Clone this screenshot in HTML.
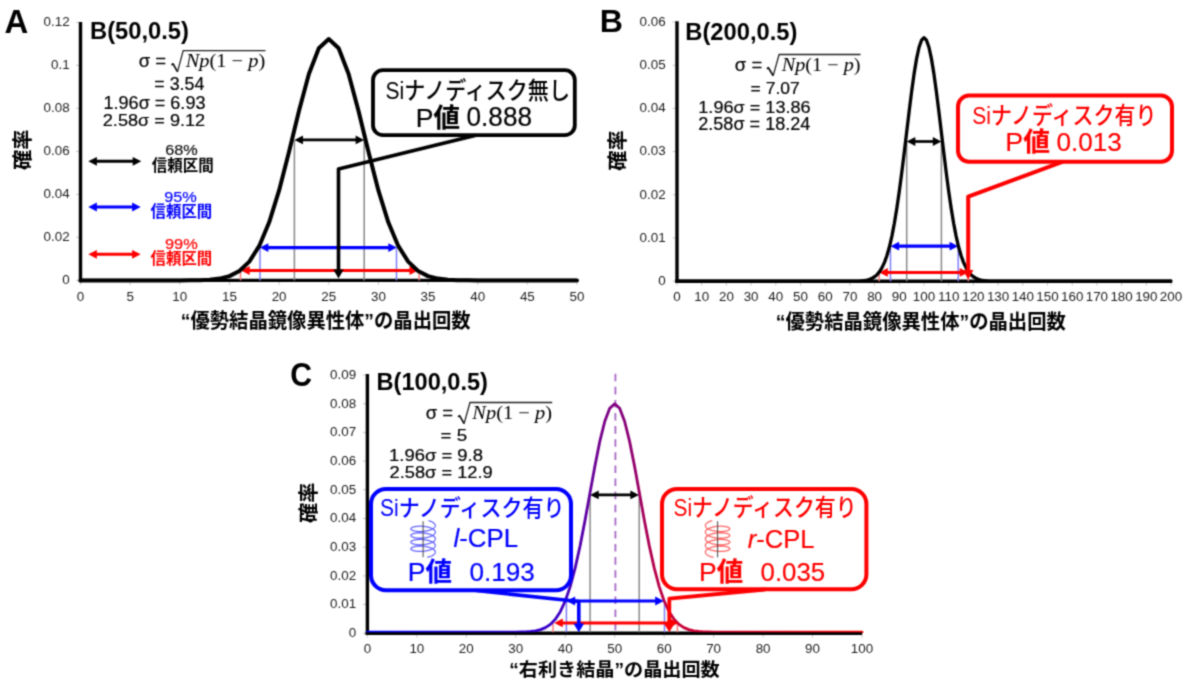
<!DOCTYPE html>
<html><head><meta charset="utf-8"><title>Binomial distribution figure</title>
<style>html,body{margin:0;padding:0;background:#fff;}svg{display:block;will-change:transform;font-family:'Liberation Sans','Noto Sans CJK JP',sans-serif;}</style>
</head><body>
<svg width="1198" height="688" viewBox="0 0 1198 688">
<defs><filter id="soft" x="0" y="0" width="1198" height="688" filterUnits="userSpaceOnUse" color-interpolation-filters="sRGB"><feConvolveMatrix order="3" kernelMatrix="0.0400 0.1200 0.0400 0.1200 0.3600 0.1200 0.0400 0.1200 0.0400" edgeMode="duplicate"/></filter></defs>
<g filter="url(#soft)">
<rect width="1198" height="688" fill="#fff"/>
<line x1="76.00" y1="280.40" x2="80.50" y2="280.40" stroke="#c8c8c8" stroke-width="1" />
<text x="69.60" y="284.20" font-size="13.4" fill="#1c1c1c" text-anchor="end">0</text>
<line x1="76.00" y1="237.40" x2="80.50" y2="237.40" stroke="#c8c8c8" stroke-width="1" />
<text x="69.60" y="241.20" font-size="13.4" fill="#1c1c1c" text-anchor="end">0.02</text>
<line x1="76.00" y1="194.40" x2="80.50" y2="194.40" stroke="#c8c8c8" stroke-width="1" />
<text x="69.60" y="198.20" font-size="13.4" fill="#1c1c1c" text-anchor="end">0.04</text>
<line x1="76.00" y1="151.40" x2="80.50" y2="151.40" stroke="#c8c8c8" stroke-width="1" />
<text x="69.60" y="155.20" font-size="13.4" fill="#1c1c1c" text-anchor="end">0.06</text>
<line x1="76.00" y1="108.40" x2="80.50" y2="108.40" stroke="#c8c8c8" stroke-width="1" />
<text x="69.60" y="112.20" font-size="13.4" fill="#1c1c1c" text-anchor="end">0.08</text>
<line x1="76.00" y1="65.40" x2="80.50" y2="65.40" stroke="#c8c8c8" stroke-width="1" />
<text x="69.60" y="69.20" font-size="13.4" fill="#1c1c1c" text-anchor="end">0.1</text>
<line x1="76.00" y1="22.40" x2="80.50" y2="22.40" stroke="#c8c8c8" stroke-width="1" />
<text x="69.60" y="26.20" font-size="13.4" fill="#1c1c1c" text-anchor="end">0.12</text>
<line x1="80.50" y1="280.40" x2="80.50" y2="284.90" stroke="#c8c8c8" stroke-width="1" />
<text x="80.50" y="300.60" font-size="13.4" fill="#1c1c1c" text-anchor="middle">0</text>
<line x1="130.15" y1="280.40" x2="130.15" y2="284.90" stroke="#c8c8c8" stroke-width="1" />
<text x="130.15" y="300.60" font-size="13.4" fill="#1c1c1c" text-anchor="middle">5</text>
<line x1="179.80" y1="280.40" x2="179.80" y2="284.90" stroke="#c8c8c8" stroke-width="1" />
<text x="179.80" y="300.60" font-size="13.4" fill="#1c1c1c" text-anchor="middle">10</text>
<line x1="229.45" y1="280.40" x2="229.45" y2="284.90" stroke="#c8c8c8" stroke-width="1" />
<text x="229.45" y="300.60" font-size="13.4" fill="#1c1c1c" text-anchor="middle">15</text>
<line x1="279.10" y1="280.40" x2="279.10" y2="284.90" stroke="#c8c8c8" stroke-width="1" />
<text x="279.10" y="300.60" font-size="13.4" fill="#1c1c1c" text-anchor="middle">20</text>
<line x1="328.75" y1="280.40" x2="328.75" y2="284.90" stroke="#c8c8c8" stroke-width="1" />
<text x="328.75" y="300.60" font-size="13.4" fill="#1c1c1c" text-anchor="middle">25</text>
<line x1="378.40" y1="280.40" x2="378.40" y2="284.90" stroke="#c8c8c8" stroke-width="1" />
<text x="378.40" y="300.60" font-size="13.4" fill="#1c1c1c" text-anchor="middle">30</text>
<line x1="428.05" y1="280.40" x2="428.05" y2="284.90" stroke="#c8c8c8" stroke-width="1" />
<text x="428.05" y="300.60" font-size="13.4" fill="#1c1c1c" text-anchor="middle">35</text>
<line x1="477.70" y1="280.40" x2="477.70" y2="284.90" stroke="#c8c8c8" stroke-width="1" />
<text x="477.70" y="300.60" font-size="13.4" fill="#1c1c1c" text-anchor="middle">40</text>
<line x1="527.35" y1="280.40" x2="527.35" y2="284.90" stroke="#c8c8c8" stroke-width="1" />
<text x="527.35" y="300.60" font-size="13.4" fill="#1c1c1c" text-anchor="middle">45</text>
<line x1="577.00" y1="280.40" x2="577.00" y2="284.90" stroke="#c8c8c8" stroke-width="1" />
<text x="577.00" y="300.60" font-size="13.4" fill="#1c1c1c" text-anchor="middle">50</text>
<line x1="80.50" y1="21.90" x2="80.50" y2="282.15" stroke="#000" stroke-width="3.4" />
<line x1="78.80" y1="280.40" x2="577.00" y2="280.40" stroke="#000" stroke-width="3.4" />
<line x1="294.40" y1="139.90" x2="294.40" y2="280.40" stroke="#888888" stroke-width="1.5" />
<line x1="364.20" y1="139.90" x2="364.20" y2="280.40" stroke="#888888" stroke-width="1.5" />
<line x1="302.00" y1="139.90" x2="356.60" y2="139.90" stroke="#000" stroke-width="2.7" />
<polygon points="294.40,139.90 303.00,135.50 303.00,144.30" fill="#000" />
<polygon points="364.20,139.90 355.60,135.50 355.60,144.30" fill="#000" />
<line x1="260.00" y1="247.60" x2="260.00" y2="280.40" stroke="#7c7cff" stroke-width="1.5" />
<line x1="396.50" y1="247.60" x2="396.50" y2="280.40" stroke="#7c7cff" stroke-width="1.5" />
<line x1="267.40" y1="247.60" x2="389.30" y2="247.60" stroke="#0000ff" stroke-width="3.2" />
<polygon points="259.80,247.60 268.40,243.20 268.40,252.00" fill="#0000ff" />
<polygon points="396.90,247.60 388.30,243.20 388.30,252.00" fill="#0000ff" />
<line x1="240.50" y1="270.50" x2="240.50" y2="280.40" stroke="#ff7c7c" stroke-width="1.5" />
<line x1="419.10" y1="270.50" x2="419.10" y2="280.40" stroke="#ff7c7c" stroke-width="1.5" />
<line x1="248.70" y1="270.50" x2="410.50" y2="270.50" stroke="#ff0000" stroke-width="3.0" />
<polygon points="241.10,270.50 249.70,266.10 249.70,274.90" fill="#ff0000" />
<polygon points="418.10,270.50 409.50,266.10 409.50,274.90" fill="#ff0000" />
<polyline points="80.50,280.40 90.43,280.40 100.36,280.40 110.29,280.40 120.22,280.40 130.15,280.40 140.08,280.40 150.01,280.40 159.94,280.40 169.87,280.40 179.80,280.38 189.73,280.33 199.66,280.17 209.59,279.72 219.52,278.61 229.45,276.10 239.38,271.00 249.31,261.60 259.24,245.93 269.17,222.34 279.10,190.40 289.03,151.83 298.96,110.92 308.89,74.08 318.82,48.29 328.75,39.01 338.68,48.29 348.61,74.08 358.54,110.92 368.47,151.83 378.40,190.40 388.33,222.34 398.26,245.93 408.19,261.60 418.12,271.00 428.05,276.10 437.98,278.61 447.91,279.72 457.84,280.17 467.77,280.33 477.70,280.38 487.63,280.40 497.56,280.40 507.49,280.40 517.42,280.40 527.35,280.40 537.28,280.40 547.21,280.40 557.14,280.40 567.07,280.40 577.00,280.40" fill="none" stroke="#000" stroke-width="4" stroke-linejoin="round" stroke-linecap="round"/>
<rect x="373" y="70.2" width="201.8" height="65" rx="10" fill="#fff" stroke="#000" stroke-width="3.8"/>
<polyline points="476.00,135.20 338.50,169.00 338.50,272.00" fill="none" stroke="#000" stroke-width="3.6" stroke-linejoin="round" />
<polygon points="338.50,278.60 333.30,269.50 343.70,269.50" fill="#000" />
<text x="385.50" y="98.95" font-size="23.37" font-weight="500" textLength="184.44" lengthAdjust="spacingAndGlyphs" xml:space="preserve">Siナノディスク無し</text>
<text x="415.85" y="126.75" font-size="25.75" textLength="44.19" lengthAdjust="spacingAndGlyphs" stroke="#000" stroke-width="0.18" xml:space="preserve">P<tspan font-weight="bold">値</tspan></text>
<text x="466.50" y="126.35" font-size="26.76" textLength="65.50" lengthAdjust="spacingAndGlyphs" stroke="#000" stroke-width="0.18" xml:space="preserve">0.888</text>
<line x1="95.90" y1="161.30" x2="133.70" y2="161.30" stroke="#000" stroke-width="3" />
<polygon points="88.30,161.30 96.90,156.90 96.90,165.70" fill="#000" />
<polygon points="141.30,161.30 132.70,156.90 132.70,165.70" fill="#000" />
<line x1="95.90" y1="207.00" x2="133.10" y2="207.00" stroke="#0000ff" stroke-width="3" />
<polygon points="88.30,207.00 96.90,202.60 96.90,211.40" fill="#0000ff" />
<polygon points="140.70,207.00 132.10,202.60 132.10,211.40" fill="#0000ff" />
<line x1="95.90" y1="254.30" x2="133.10" y2="254.30" stroke="#ff0000" stroke-width="3" />
<polygon points="88.30,254.30 96.90,249.90 96.90,258.70" fill="#ff0000" />
<polygon points="140.70,254.30 132.10,249.90 132.10,258.70" fill="#ff0000" />
<text x="165.25" y="155.25" font-size="15.14" fill="#111" textLength="32.53" lengthAdjust="spacingAndGlyphs" stroke="#111" stroke-width="0.18" xml:space="preserve">68%</text>
<text x="151.75" y="171.43" font-size="15.75" font-weight="bold" textLength="62.03" lengthAdjust="spacingAndGlyphs" xml:space="preserve">信頼区間</text>
<text x="164.15" y="201.78" font-size="15.43" fill="#0000ff" textLength="32.63" lengthAdjust="spacingAndGlyphs" stroke="#0000ff" stroke-width="0.18" xml:space="preserve">95%</text>
<text x="150.55" y="217.43" font-size="15.75" fill="#0000ff" font-weight="bold" textLength="61.67" lengthAdjust="spacingAndGlyphs" xml:space="preserve">信頼区間</text>
<text x="164.95" y="248.52" font-size="14.86" fill="#ff0000" textLength="32.74" lengthAdjust="spacingAndGlyphs" stroke="#ff0000" stroke-width="0.18" xml:space="preserve">99%</text>
<text x="150.55" y="264.33" font-size="15.75" fill="#ff0000" font-weight="bold" textLength="61.67" lengthAdjust="spacingAndGlyphs" xml:space="preserve">信頼区間</text>
<line x1="672.50" y1="281.20" x2="677.00" y2="281.20" stroke="#c8c8c8" stroke-width="1" />
<text x="665.60" y="285.00" font-size="13.4" fill="#1c1c1c" text-anchor="end">0</text>
<line x1="672.50" y1="238.00" x2="677.00" y2="238.00" stroke="#c8c8c8" stroke-width="1" />
<text x="665.60" y="241.80" font-size="13.4" fill="#1c1c1c" text-anchor="end">0.01</text>
<line x1="672.50" y1="194.80" x2="677.00" y2="194.80" stroke="#c8c8c8" stroke-width="1" />
<text x="665.60" y="198.60" font-size="13.4" fill="#1c1c1c" text-anchor="end">0.02</text>
<line x1="672.50" y1="151.60" x2="677.00" y2="151.60" stroke="#c8c8c8" stroke-width="1" />
<text x="665.60" y="155.40" font-size="13.4" fill="#1c1c1c" text-anchor="end">0.03</text>
<line x1="672.50" y1="108.40" x2="677.00" y2="108.40" stroke="#c8c8c8" stroke-width="1" />
<text x="665.60" y="112.20" font-size="13.4" fill="#1c1c1c" text-anchor="end">0.04</text>
<line x1="672.50" y1="65.20" x2="677.00" y2="65.20" stroke="#c8c8c8" stroke-width="1" />
<text x="665.60" y="69.00" font-size="13.4" fill="#1c1c1c" text-anchor="end">0.05</text>
<line x1="672.50" y1="22.00" x2="677.00" y2="22.00" stroke="#c8c8c8" stroke-width="1" />
<text x="665.60" y="25.80" font-size="13.4" fill="#1c1c1c" text-anchor="end">0.06</text>
<line x1="677.00" y1="281.20" x2="677.00" y2="285.70" stroke="#c8c8c8" stroke-width="1" />
<text x="677.00" y="301.40" font-size="13.4" fill="#1c1c1c" text-anchor="middle">0</text>
<line x1="701.70" y1="281.20" x2="701.70" y2="285.70" stroke="#c8c8c8" stroke-width="1" />
<text x="701.70" y="301.40" font-size="13.4" fill="#1c1c1c" text-anchor="middle">10</text>
<line x1="726.40" y1="281.20" x2="726.40" y2="285.70" stroke="#c8c8c8" stroke-width="1" />
<text x="726.40" y="301.40" font-size="13.4" fill="#1c1c1c" text-anchor="middle">20</text>
<line x1="751.10" y1="281.20" x2="751.10" y2="285.70" stroke="#c8c8c8" stroke-width="1" />
<text x="751.10" y="301.40" font-size="13.4" fill="#1c1c1c" text-anchor="middle">30</text>
<line x1="775.80" y1="281.20" x2="775.80" y2="285.70" stroke="#c8c8c8" stroke-width="1" />
<text x="775.80" y="301.40" font-size="13.4" fill="#1c1c1c" text-anchor="middle">40</text>
<line x1="800.50" y1="281.20" x2="800.50" y2="285.70" stroke="#c8c8c8" stroke-width="1" />
<text x="800.50" y="301.40" font-size="13.4" fill="#1c1c1c" text-anchor="middle">50</text>
<line x1="825.20" y1="281.20" x2="825.20" y2="285.70" stroke="#c8c8c8" stroke-width="1" />
<text x="825.20" y="301.40" font-size="13.4" fill="#1c1c1c" text-anchor="middle">60</text>
<line x1="849.90" y1="281.20" x2="849.90" y2="285.70" stroke="#c8c8c8" stroke-width="1" />
<text x="849.90" y="301.40" font-size="13.4" fill="#1c1c1c" text-anchor="middle">70</text>
<line x1="874.60" y1="281.20" x2="874.60" y2="285.70" stroke="#c8c8c8" stroke-width="1" />
<text x="874.60" y="301.40" font-size="13.4" fill="#1c1c1c" text-anchor="middle">80</text>
<line x1="899.30" y1="281.20" x2="899.30" y2="285.70" stroke="#c8c8c8" stroke-width="1" />
<text x="899.30" y="301.40" font-size="13.4" fill="#1c1c1c" text-anchor="middle">90</text>
<line x1="924.00" y1="281.20" x2="924.00" y2="285.70" stroke="#c8c8c8" stroke-width="1" />
<text x="924.00" y="301.40" font-size="13.4" fill="#1c1c1c" text-anchor="middle">100</text>
<line x1="948.70" y1="281.20" x2="948.70" y2="285.70" stroke="#c8c8c8" stroke-width="1" />
<text x="948.70" y="301.40" font-size="13.4" fill="#1c1c1c" text-anchor="middle">110</text>
<line x1="973.40" y1="281.20" x2="973.40" y2="285.70" stroke="#c8c8c8" stroke-width="1" />
<text x="973.40" y="301.40" font-size="13.4" fill="#1c1c1c" text-anchor="middle">120</text>
<line x1="998.10" y1="281.20" x2="998.10" y2="285.70" stroke="#c8c8c8" stroke-width="1" />
<text x="998.10" y="301.40" font-size="13.4" fill="#1c1c1c" text-anchor="middle">130</text>
<line x1="1022.80" y1="281.20" x2="1022.80" y2="285.70" stroke="#c8c8c8" stroke-width="1" />
<text x="1022.80" y="301.40" font-size="13.4" fill="#1c1c1c" text-anchor="middle">140</text>
<line x1="1047.50" y1="281.20" x2="1047.50" y2="285.70" stroke="#c8c8c8" stroke-width="1" />
<text x="1047.50" y="301.40" font-size="13.4" fill="#1c1c1c" text-anchor="middle">150</text>
<line x1="1072.20" y1="281.20" x2="1072.20" y2="285.70" stroke="#c8c8c8" stroke-width="1" />
<text x="1072.20" y="301.40" font-size="13.4" fill="#1c1c1c" text-anchor="middle">160</text>
<line x1="1096.90" y1="281.20" x2="1096.90" y2="285.70" stroke="#c8c8c8" stroke-width="1" />
<text x="1096.90" y="301.40" font-size="13.4" fill="#1c1c1c" text-anchor="middle">170</text>
<line x1="1121.60" y1="281.20" x2="1121.60" y2="285.70" stroke="#c8c8c8" stroke-width="1" />
<text x="1121.60" y="301.40" font-size="13.4" fill="#1c1c1c" text-anchor="middle">180</text>
<line x1="1146.30" y1="281.20" x2="1146.30" y2="285.70" stroke="#c8c8c8" stroke-width="1" />
<text x="1146.30" y="301.40" font-size="13.4" fill="#1c1c1c" text-anchor="middle">190</text>
<line x1="1171.00" y1="281.20" x2="1171.00" y2="285.70" stroke="#c8c8c8" stroke-width="1" />
<text x="1171.00" y="301.40" font-size="13.4" fill="#1c1c1c" text-anchor="middle">200</text>
<line x1="677.00" y1="21.30" x2="677.00" y2="282.95" stroke="#000" stroke-width="3.4" />
<line x1="675.30" y1="281.20" x2="1172.00" y2="281.20" stroke="#000" stroke-width="3.4" />
<line x1="906.70" y1="141.50" x2="906.70" y2="281.20" stroke="#888888" stroke-width="1.5" />
<line x1="941.40" y1="141.50" x2="941.40" y2="281.20" stroke="#888888" stroke-width="1.5" />
<line x1="914.30" y1="141.50" x2="933.80" y2="141.50" stroke="#000" stroke-width="2.7" />
<polygon points="906.70,141.50 915.30,137.10 915.30,145.90" fill="#000" />
<polygon points="941.40,141.50 932.80,137.10 932.80,145.90" fill="#000" />
<line x1="890.50" y1="246.20" x2="890.50" y2="281.20" stroke="#7c7cff" stroke-width="1.5" />
<line x1="958.20" y1="246.20" x2="958.20" y2="281.20" stroke="#7c7cff" stroke-width="1.5" />
<line x1="898.10" y1="246.20" x2="950.60" y2="246.20" stroke="#0000ff" stroke-width="3.2" />
<polygon points="890.50,246.20 899.10,241.80 899.10,250.60" fill="#0000ff" />
<polygon points="958.20,246.20 949.60,241.80 949.60,250.60" fill="#0000ff" />
<line x1="879.20" y1="272.40" x2="879.20" y2="281.20" stroke="#ff7c7c" stroke-width="1.5" />
<line x1="968.30" y1="272.40" x2="968.30" y2="281.20" stroke="#ff7c7c" stroke-width="1.5" />
<line x1="886.80" y1="272.40" x2="960.70" y2="272.40" stroke="#ff0000" stroke-width="3.0" />
<polygon points="879.20,272.40 887.80,268.00 887.80,276.80" fill="#ff0000" />
<polygon points="968.30,272.40 959.70,268.00 959.70,276.80" fill="#ff0000" />
<polyline points="677.00,281.20 679.47,281.20 681.94,281.20 684.41,281.20 686.88,281.20 689.35,281.20 691.82,281.20 694.29,281.20 696.76,281.20 699.23,281.20 701.70,281.20 704.17,281.20 706.64,281.20 709.11,281.20 711.58,281.20 714.05,281.20 716.52,281.20 718.99,281.20 721.46,281.20 723.93,281.20 726.40,281.20 728.87,281.20 731.34,281.20 733.81,281.20 736.28,281.20 738.75,281.20 741.22,281.20 743.69,281.20 746.16,281.20 748.63,281.20 751.10,281.20 753.57,281.20 756.04,281.20 758.51,281.20 760.98,281.20 763.45,281.20 765.92,281.20 768.39,281.20 770.86,281.20 773.33,281.20 775.80,281.20 778.27,281.20 780.74,281.20 783.21,281.20 785.68,281.20 788.15,281.20 790.62,281.20 793.09,281.20 795.56,281.20 798.03,281.20 800.50,281.20 802.97,281.20 805.44,281.20 807.91,281.20 810.38,281.20 812.85,281.20 815.32,281.20 817.79,281.20 820.26,281.20 822.73,281.20 825.20,281.20 827.67,281.20 830.14,281.20 832.61,281.20 835.08,281.20 837.55,281.20 840.02,281.20 842.49,281.20 844.96,281.19 847.43,281.19 849.90,281.17 852.37,281.15 854.84,281.11 857.31,281.04 859.78,280.93 862.25,280.75 864.72,280.45 867.19,280.00 869.66,279.30 872.13,278.27 874.60,276.77 877.07,274.64 879.54,271.68 882.01,267.66 884.48,262.35 886.95,255.47 889.42,246.79 891.89,236.12 894.36,223.31 896.83,208.35 899.30,191.35 901.77,172.59 904.24,152.52 906.71,131.77 909.18,111.10 911.65,91.40 914.12,73.61 916.59,58.63 919.06,47.27 921.53,40.18 924.00,37.77 926.47,40.18 928.94,47.27 931.41,58.63 933.88,73.61 936.35,91.40 938.82,111.10 941.29,131.77 943.76,152.52 946.23,172.59 948.70,191.35 951.17,208.35 953.64,223.31 956.11,236.12 958.58,246.79 961.05,255.47 963.52,262.35 965.99,267.66 968.46,271.68 970.93,274.64 973.40,276.77 975.87,278.27 978.34,279.30 980.81,280.00 983.28,280.45 985.75,280.75 988.22,280.93 990.69,281.04 993.16,281.11 995.63,281.15 998.10,281.17 1000.57,281.19 1003.04,281.19 1005.51,281.20 1007.98,281.20 1010.45,281.20 1012.92,281.20 1015.39,281.20 1017.86,281.20 1020.33,281.20 1022.80,281.20 1025.27,281.20 1027.74,281.20 1030.21,281.20 1032.68,281.20 1035.15,281.20 1037.62,281.20 1040.09,281.20 1042.56,281.20 1045.03,281.20 1047.50,281.20 1049.97,281.20 1052.44,281.20 1054.91,281.20 1057.38,281.20 1059.85,281.20 1062.32,281.20 1064.79,281.20 1067.26,281.20 1069.73,281.20 1072.20,281.20 1074.67,281.20 1077.14,281.20 1079.61,281.20 1082.08,281.20 1084.55,281.20 1087.02,281.20 1089.49,281.20 1091.96,281.20 1094.43,281.20 1096.90,281.20 1099.37,281.20 1101.84,281.20 1104.31,281.20 1106.78,281.20 1109.25,281.20 1111.72,281.20 1114.19,281.20 1116.66,281.20 1119.13,281.20 1121.60,281.20 1124.07,281.20 1126.54,281.20 1129.01,281.20 1131.48,281.20 1133.95,281.20 1136.42,281.20 1138.89,281.20 1141.36,281.20 1143.83,281.20 1146.30,281.20 1148.77,281.20 1151.24,281.20 1153.71,281.20 1156.18,281.20 1158.65,281.20 1161.12,281.20 1163.59,281.20 1166.06,281.20 1168.53,281.20 1171.00,281.20" fill="none" stroke="#000" stroke-width="3.3" stroke-linejoin="round" stroke-linecap="round"/>
<rect x="958" y="95.6" width="214" height="66.1" rx="11" fill="#fff" stroke="#ff0000" stroke-width="4"/>
<polyline points="1063.00,161.70 968.20,196.60 968.20,272.00" fill="none" stroke="#ff0000" stroke-width="4" stroke-linejoin="round" />
<polygon points="968.20,279.60 963.00,270.00 973.40,270.00" fill="#ff0000" />
<text x="972.30" y="124.18" font-size="23.58" fill="#ff0000" font-weight="500" textLength="184.17" lengthAdjust="spacingAndGlyphs" xml:space="preserve">Siナノディスク有り</text>
<text x="1005.35" y="151.43" font-size="26.06" fill="#ff0000" textLength="44.73" lengthAdjust="spacingAndGlyphs" stroke="#ff0000" stroke-width="0.18" xml:space="preserve">P<tspan font-weight="bold">値</tspan></text>
<text x="1056.50" y="150.68" font-size="26.62" fill="#ff0000" textLength="65.40" lengthAdjust="spacingAndGlyphs" stroke="#ff0000" stroke-width="0.18" xml:space="preserve">0.013</text>
<line x1="362.90" y1="633.20" x2="367.40" y2="633.20" stroke="#c8c8c8" stroke-width="1" />
<text x="356.10" y="637.00" font-size="13.4" fill="#1c1c1c" text-anchor="end">0</text>
<line x1="362.90" y1="604.52" x2="367.40" y2="604.52" stroke="#c8c8c8" stroke-width="1" />
<text x="356.10" y="608.32" font-size="13.4" fill="#1c1c1c" text-anchor="end">0.01</text>
<line x1="362.90" y1="575.84" x2="367.40" y2="575.84" stroke="#c8c8c8" stroke-width="1" />
<text x="356.10" y="579.64" font-size="13.4" fill="#1c1c1c" text-anchor="end">0.02</text>
<line x1="362.90" y1="547.16" x2="367.40" y2="547.16" stroke="#c8c8c8" stroke-width="1" />
<text x="356.10" y="550.96" font-size="13.4" fill="#1c1c1c" text-anchor="end">0.03</text>
<line x1="362.90" y1="518.48" x2="367.40" y2="518.48" stroke="#c8c8c8" stroke-width="1" />
<text x="356.10" y="522.28" font-size="13.4" fill="#1c1c1c" text-anchor="end">0.04</text>
<line x1="362.90" y1="489.80" x2="367.40" y2="489.80" stroke="#c8c8c8" stroke-width="1" />
<text x="356.10" y="493.60" font-size="13.4" fill="#1c1c1c" text-anchor="end">0.05</text>
<line x1="362.90" y1="461.12" x2="367.40" y2="461.12" stroke="#c8c8c8" stroke-width="1" />
<text x="356.10" y="464.92" font-size="13.4" fill="#1c1c1c" text-anchor="end">0.06</text>
<line x1="362.90" y1="432.44" x2="367.40" y2="432.44" stroke="#c8c8c8" stroke-width="1" />
<text x="356.10" y="436.24" font-size="13.4" fill="#1c1c1c" text-anchor="end">0.07</text>
<line x1="362.90" y1="403.76" x2="367.40" y2="403.76" stroke="#c8c8c8" stroke-width="1" />
<text x="356.10" y="407.56" font-size="13.4" fill="#1c1c1c" text-anchor="end">0.08</text>
<line x1="362.90" y1="375.08" x2="367.40" y2="375.08" stroke="#c8c8c8" stroke-width="1" />
<text x="356.10" y="378.88" font-size="13.4" fill="#1c1c1c" text-anchor="end">0.09</text>
<line x1="367.40" y1="633.20" x2="367.40" y2="637.70" stroke="#c8c8c8" stroke-width="1" />
<text x="367.40" y="653.40" font-size="13.4" fill="#1c1c1c" text-anchor="middle">0</text>
<line x1="416.86" y1="633.20" x2="416.86" y2="637.70" stroke="#c8c8c8" stroke-width="1" />
<text x="416.86" y="653.40" font-size="13.4" fill="#1c1c1c" text-anchor="middle">10</text>
<line x1="466.32" y1="633.20" x2="466.32" y2="637.70" stroke="#c8c8c8" stroke-width="1" />
<text x="466.32" y="653.40" font-size="13.4" fill="#1c1c1c" text-anchor="middle">20</text>
<line x1="515.78" y1="633.20" x2="515.78" y2="637.70" stroke="#c8c8c8" stroke-width="1" />
<text x="515.78" y="653.40" font-size="13.4" fill="#1c1c1c" text-anchor="middle">30</text>
<line x1="565.24" y1="633.20" x2="565.24" y2="637.70" stroke="#c8c8c8" stroke-width="1" />
<text x="565.24" y="653.40" font-size="13.4" fill="#1c1c1c" text-anchor="middle">40</text>
<line x1="614.70" y1="633.20" x2="614.70" y2="637.70" stroke="#c8c8c8" stroke-width="1" />
<text x="614.70" y="653.40" font-size="13.4" fill="#1c1c1c" text-anchor="middle">50</text>
<line x1="664.16" y1="633.20" x2="664.16" y2="637.70" stroke="#c8c8c8" stroke-width="1" />
<text x="664.16" y="653.40" font-size="13.4" fill="#1c1c1c" text-anchor="middle">60</text>
<line x1="713.62" y1="633.20" x2="713.62" y2="637.70" stroke="#c8c8c8" stroke-width="1" />
<text x="713.62" y="653.40" font-size="13.4" fill="#1c1c1c" text-anchor="middle">70</text>
<line x1="763.08" y1="633.20" x2="763.08" y2="637.70" stroke="#c8c8c8" stroke-width="1" />
<text x="763.08" y="653.40" font-size="13.4" fill="#1c1c1c" text-anchor="middle">80</text>
<line x1="812.54" y1="633.20" x2="812.54" y2="637.70" stroke="#c8c8c8" stroke-width="1" />
<text x="812.54" y="653.40" font-size="13.4" fill="#1c1c1c" text-anchor="middle">90</text>
<line x1="862.00" y1="633.20" x2="862.00" y2="637.70" stroke="#c8c8c8" stroke-width="1" />
<text x="862.00" y="653.40" font-size="13.4" fill="#1c1c1c" text-anchor="middle">100</text>
<line x1="367.40" y1="374.00" x2="367.40" y2="634.95" stroke="#000" stroke-width="3.4" />
<line x1="365.70" y1="633.20" x2="862.00" y2="633.20" stroke="#000" stroke-width="3.4" />
<line x1="590.10" y1="494.90" x2="590.10" y2="633.20" stroke="#888888" stroke-width="1.5" />
<line x1="639.20" y1="494.90" x2="639.20" y2="633.20" stroke="#888888" stroke-width="1.5" />
<line x1="566.40" y1="601.00" x2="566.40" y2="633.20" stroke="#7c7cff" stroke-width="1.5" />
<line x1="664.50" y1="601.00" x2="664.50" y2="633.20" stroke="#7c7cff" stroke-width="1.5" />
<line x1="553.00" y1="622.90" x2="553.00" y2="633.20" stroke="#ff7c7c" stroke-width="1.5" />
<line x1="677.40" y1="622.90" x2="677.40" y2="633.20" stroke="#ff7c7c" stroke-width="1.5" />
<line x1="615.40" y1="373.70" x2="615.40" y2="631.00" stroke="#a468c4" stroke-width="1.8" stroke-dasharray="7.6 5.5"/>
<defs><linearGradient id="cg" gradientUnits="userSpaceOnUse" x1="367.40" y1="0" x2="862.00" y2="0"><stop offset="0.0000" stop-color="rgb(0,0,255)"/><stop offset="0.0100" stop-color="rgb(2,0,253)"/><stop offset="0.0200" stop-color="rgb(3,0,252)"/><stop offset="0.0300" stop-color="rgb(5,0,250)"/><stop offset="0.0400" stop-color="rgb(6,0,249)"/><stop offset="0.0500" stop-color="rgb(8,0,247)"/><stop offset="0.0600" stop-color="rgb(9,0,246)"/><stop offset="0.0700" stop-color="rgb(11,0,244)"/><stop offset="0.0800" stop-color="rgb(12,0,243)"/><stop offset="0.0900" stop-color="rgb(14,0,241)"/><stop offset="0.1000" stop-color="rgb(15,0,240)"/><stop offset="0.1100" stop-color="rgb(17,0,238)"/><stop offset="0.1200" stop-color="rgb(18,0,237)"/><stop offset="0.1300" stop-color="rgb(20,0,235)"/><stop offset="0.1400" stop-color="rgb(21,0,234)"/><stop offset="0.1500" stop-color="rgb(23,0,232)"/><stop offset="0.1600" stop-color="rgb(24,0,231)"/><stop offset="0.1700" stop-color="rgb(26,0,229)"/><stop offset="0.1800" stop-color="rgb(27,0,228)"/><stop offset="0.1900" stop-color="rgb(29,0,226)"/><stop offset="0.2000" stop-color="rgb(30,0,225)"/><stop offset="0.2100" stop-color="rgb(32,0,223)"/><stop offset="0.2200" stop-color="rgb(33,0,222)"/><stop offset="0.2300" stop-color="rgb(35,0,220)"/><stop offset="0.2400" stop-color="rgb(36,0,219)"/><stop offset="0.2500" stop-color="rgb(38,0,217)"/><stop offset="0.2600" stop-color="rgb(39,0,216)"/><stop offset="0.2700" stop-color="rgb(41,0,214)"/><stop offset="0.2800" stop-color="rgb(42,0,213)"/><stop offset="0.2900" stop-color="rgb(44,0,211)"/><stop offset="0.3000" stop-color="rgb(45,0,210)"/><stop offset="0.3100" stop-color="rgb(47,0,208)"/><stop offset="0.3200" stop-color="rgb(48,0,207)"/><stop offset="0.3300" stop-color="rgb(50,0,205)"/><stop offset="0.3400" stop-color="rgb(51,0,204)"/><stop offset="0.3500" stop-color="rgb(53,0,202)"/><stop offset="0.3600" stop-color="rgb(55,0,200)"/><stop offset="0.3700" stop-color="rgb(56,0,199)"/><stop offset="0.3800" stop-color="rgb(59,0,196)"/><stop offset="0.3900" stop-color="rgb(61,0,194)"/><stop offset="0.4000" stop-color="rgb(65,0,190)"/><stop offset="0.4100" stop-color="rgb(70,0,185)"/><stop offset="0.4200" stop-color="rgb(75,0,180)"/><stop offset="0.4300" stop-color="rgb(82,0,173)"/><stop offset="0.4400" stop-color="rgb(90,0,165)"/><stop offset="0.4500" stop-color="rgb(99,0,156)"/><stop offset="0.4600" stop-color="rgb(107,0,148)"/><stop offset="0.4700" stop-color="rgb(115,0,140)"/><stop offset="0.4800" stop-color="rgb(121,0,134)"/><stop offset="0.4900" stop-color="rgb(125,0,130)"/><stop offset="0.5000" stop-color="rgb(128,0,127)"/><stop offset="0.5100" stop-color="rgb(130,0,125)"/><stop offset="0.5200" stop-color="rgb(134,0,121)"/><stop offset="0.5300" stop-color="rgb(140,0,115)"/><stop offset="0.5400" stop-color="rgb(148,0,107)"/><stop offset="0.5500" stop-color="rgb(156,0,99)"/><stop offset="0.5600" stop-color="rgb(165,0,90)"/><stop offset="0.5700" stop-color="rgb(173,0,82)"/><stop offset="0.5800" stop-color="rgb(180,0,75)"/><stop offset="0.5900" stop-color="rgb(185,0,70)"/><stop offset="0.6000" stop-color="rgb(190,0,65)"/><stop offset="0.6100" stop-color="rgb(194,0,61)"/><stop offset="0.6200" stop-color="rgb(196,0,59)"/><stop offset="0.6300" stop-color="rgb(199,0,56)"/><stop offset="0.6400" stop-color="rgb(200,0,55)"/><stop offset="0.6500" stop-color="rgb(202,0,53)"/><stop offset="0.6600" stop-color="rgb(204,0,51)"/><stop offset="0.6700" stop-color="rgb(205,0,50)"/><stop offset="0.6800" stop-color="rgb(207,0,48)"/><stop offset="0.6900" stop-color="rgb(208,0,47)"/><stop offset="0.7000" stop-color="rgb(210,0,45)"/><stop offset="0.7100" stop-color="rgb(211,0,44)"/><stop offset="0.7200" stop-color="rgb(213,0,42)"/><stop offset="0.7300" stop-color="rgb(214,0,41)"/><stop offset="0.7400" stop-color="rgb(216,0,39)"/><stop offset="0.7500" stop-color="rgb(217,0,38)"/><stop offset="0.7600" stop-color="rgb(219,0,36)"/><stop offset="0.7700" stop-color="rgb(220,0,35)"/><stop offset="0.7800" stop-color="rgb(222,0,33)"/><stop offset="0.7900" stop-color="rgb(223,0,32)"/><stop offset="0.8000" stop-color="rgb(225,0,30)"/><stop offset="0.8100" stop-color="rgb(226,0,29)"/><stop offset="0.8200" stop-color="rgb(228,0,27)"/><stop offset="0.8300" stop-color="rgb(229,0,26)"/><stop offset="0.8400" stop-color="rgb(231,0,24)"/><stop offset="0.8500" stop-color="rgb(232,0,23)"/><stop offset="0.8600" stop-color="rgb(234,0,21)"/><stop offset="0.8700" stop-color="rgb(235,0,20)"/><stop offset="0.8800" stop-color="rgb(237,0,18)"/><stop offset="0.8900" stop-color="rgb(238,0,17)"/><stop offset="0.9000" stop-color="rgb(240,0,15)"/><stop offset="0.9100" stop-color="rgb(241,0,14)"/><stop offset="0.9200" stop-color="rgb(243,0,12)"/><stop offset="0.9300" stop-color="rgb(244,0,11)"/><stop offset="0.9400" stop-color="rgb(246,0,9)"/><stop offset="0.9500" stop-color="rgb(247,0,8)"/><stop offset="0.9600" stop-color="rgb(249,0,6)"/><stop offset="0.9700" stop-color="rgb(250,0,5)"/><stop offset="0.9800" stop-color="rgb(252,0,3)"/><stop offset="0.9900" stop-color="rgb(253,0,2)"/><stop offset="1.0000" stop-color="rgb(255,0,0)"/></linearGradient></defs>
<line x1="597.70" y1="494.90" x2="631.40" y2="494.90" stroke="#000" stroke-width="2.7" />
<polygon points="590.10,494.90 598.70,490.50 598.70,499.30" fill="#000" />
<polygon points="639.00,494.90 630.40,490.50 630.40,499.30" fill="#000" />
<polyline points="367.40,632.10 372.35,632.10 377.29,632.10 382.24,632.10 387.18,632.10 392.13,632.10 397.08,632.10 402.02,632.10 406.97,632.10 411.91,632.10 416.86,632.10 421.81,632.10 426.75,632.10 431.70,632.10 436.64,632.10 441.59,632.10 446.54,632.10 451.48,632.10 456.43,632.10 461.37,632.10 466.32,632.10 471.27,632.10 476.21,632.10 481.16,632.10 486.10,632.10 491.05,632.10 496.00,632.10 500.94,632.10 505.89,632.09 510.83,632.07 515.78,632.03 520.73,631.95 525.67,631.78 530.62,631.43 535.56,630.79 540.51,629.62 545.46,627.63 550.40,624.36 555.35,619.27 560.29,611.71 565.24,601.00 570.19,586.59 575.13,568.17 580.08,545.86 585.02,520.38 589.97,493.08 594.92,465.88 599.86,441.12 604.81,421.22 609.75,408.31 614.70,403.84 619.65,408.31 624.59,421.22 629.54,441.12 634.48,465.88 639.43,493.08 644.38,520.38 649.32,545.86 654.27,568.17 659.21,586.59 664.16,601.00 669.11,611.71 674.05,619.27 679.00,624.36 683.94,627.63 688.89,629.62 693.84,630.79 698.78,631.43 703.73,631.78 708.67,631.95 713.62,632.03 718.57,632.07 723.51,632.09 728.46,632.10 733.40,632.10 738.35,632.10 743.30,632.10 748.24,632.10 753.19,632.10 758.13,632.10 763.08,632.10 768.03,632.10 772.97,632.10 777.92,632.10 782.86,632.10 787.81,632.10 792.76,632.10 797.70,632.10 802.65,632.10 807.59,632.10 812.54,632.10 817.49,632.10 822.43,632.10 827.38,632.10 832.32,632.10 837.27,632.10 842.22,632.10 847.16,632.10 852.11,632.10 857.05,632.10 862.00,632.10" fill="none" stroke="url(#cg)" stroke-width="2.8" stroke-linejoin="round" stroke-linecap="round"/>
<line x1="365.70" y1="633.55" x2="862.00" y2="633.55" stroke="#000" stroke-width="2.7" />
<line x1="574.20" y1="601.00" x2="656.20" y2="601.00" stroke="#0000ff" stroke-width="3.2" />
<polygon points="566.60,601.00 575.20,596.60 575.20,605.40" fill="#0000ff" />
<polygon points="663.80,601.00 655.20,596.60 655.20,605.40" fill="#0000ff" />
<line x1="561.80" y1="622.90" x2="670.80" y2="622.90" stroke="#ff0000" stroke-width="3.0" />
<polygon points="554.20,622.90 562.80,618.50 562.80,627.30" fill="#ff0000" />
<polygon points="678.40,622.90 669.80,618.50 669.80,627.30" fill="#ff0000" />
<rect x="371" y="489" width="200" height="101.2" rx="15" fill="#fff" stroke="#0000ff" stroke-width="4"/>
<polyline points="476.00,590.50 578.80,601.50 578.80,626.00" fill="none" stroke="#0000ff" stroke-width="3.6" stroke-linejoin="round" />
<polygon points="578.80,632.30 573.50,623.50 584.10,623.50" fill="#0000ff" />
<rect x="662" y="489" width="204.4" height="100.2" rx="15" fill="#fff" stroke="#ff0000" stroke-width="4"/>
<polyline points="765.00,589.50 669.30,598.70 669.30,626.00" fill="none" stroke="#ff0000" stroke-width="3.8" stroke-linejoin="round" />
<polygon points="669.30,632.30 664.00,623.50 674.60,623.50" fill="#ff0000" />
<text x="380.10" y="515.70" font-size="23.26" fill="#0000ff" font-weight="500" textLength="184.40" lengthAdjust="spacingAndGlyphs" xml:space="preserve">Siナノディスク有り</text>
<text x="673.50" y="516.20" font-size="23.48" fill="#ff0000" font-weight="500" textLength="183.12" lengthAdjust="spacingAndGlyphs" xml:space="preserve">Siナノディスク有り</text>
<text x="453.40" y="547.33" font-size="26.14" fill="#0000ff" textLength="64.68" lengthAdjust="spacingAndGlyphs" stroke="#0000ff" stroke-width="0.18" xml:space="preserve"><tspan font-style="italic">l</tspan>-CPL</text>
<text x="747.70" y="547.85" font-size="26.07" fill="#ff0000" textLength="66.75" lengthAdjust="spacingAndGlyphs" stroke="#ff0000" stroke-width="0.18" xml:space="preserve"><tspan font-style="italic">r</tspan>-CPL</text>
<text x="407.85" y="580.92" font-size="25.85" fill="#0000ff" textLength="44.22" lengthAdjust="spacingAndGlyphs" stroke="#0000ff" stroke-width="0.18" xml:space="preserve">P<tspan font-weight="bold">値</tspan></text>
<text x="469.40" y="580.60" font-size="26.20" fill="#0000ff" textLength="65.34" lengthAdjust="spacingAndGlyphs" stroke="#0000ff" stroke-width="0.18" xml:space="preserve">0.193</text>
<text x="698.95" y="580.92" font-size="25.85" fill="#ff0000" textLength="44.22" lengthAdjust="spacingAndGlyphs" stroke="#ff0000" stroke-width="0.18" xml:space="preserve">P<tspan font-weight="bold">値</tspan></text>
<text x="760.50" y="580.83" font-size="26.48" fill="#ff0000" textLength="64.70" lengthAdjust="spacingAndGlyphs" stroke="#ff0000" stroke-width="0.18" xml:space="preserve">0.035</text>
<polyline points="428.41,520.60 428.90,520.74 429.39,520.88 429.86,521.03 430.32,521.19 430.76,521.35 431.19,521.53 431.60,521.71 431.99,521.89 432.36,522.08 432.72,522.28 433.05,522.48 433.36,522.69 433.65,522.90 433.92,523.12 434.17,523.34 434.39,523.56 434.59,523.79 434.77,524.02 434.92,524.25 435.04,524.49 435.15,524.73 435.22,524.96 435.27,525.20 435.30,525.44 435.30,525.68 435.27,525.92 435.22,526.16 435.14,526.40 435.04,526.64 434.91,526.87 434.76,527.11 434.58,527.34 434.38,527.56 434.16,527.79 433.91,528.01 433.64,528.23 433.35,528.44 433.03,528.64 432.70,528.85 432.35,529.04 431.97,529.23 431.58,529.42 431.17,529.60 430.74,529.77 430.30,529.93 429.84,530.09 429.37,530.24 428.88,530.39 428.38,530.52 427.87,530.65 427.36,530.77 426.83,530.88 426.29,530.98 425.75,531.08 425.20,531.16 424.65,531.24 424.09,531.31 423.54,531.37 422.98,531.42 422.42,531.46 421.86,531.49 421.31,531.52 420.76,531.53 420.21,531.54 419.67,531.54 419.14,531.53 418.62,531.51 418.10,531.48 417.60,531.45 417.10,531.41 416.62,531.36 416.16,531.30 415.71,531.24 415.27,531.17 414.85,531.09 414.45,531.00 414.06,530.91 413.70,530.81 413.35,530.71 413.03,530.60 412.72,530.49 412.44,530.37 412.18,530.25 411.94,530.13 411.73,530.00 411.54,529.87 411.37,529.73 411.23,529.59 411.11,529.45 411.02,529.31 410.96,529.17 410.92,529.03 410.90,528.88 410.91,528.74 410.95,528.60 411.01,528.45 411.10,528.31 411.21,528.17 411.34,528.04 411.51,527.90 411.69,527.77 411.90,527.64 412.14,527.51 412.39,527.39 412.67,527.27 412.97,527.16 413.29,527.05 413.64,526.95 414.00,526.85 414.38,526.76 414.78,526.67 415.20,526.59 415.63,526.52 416.08,526.45 416.54,526.40 417.02,526.34 417.51,526.30 418.02,526.26 418.53,526.24 419.05,526.22 419.58,526.21 420.12,526.20 420.66,526.21 421.21,526.22 421.77,526.25 422.32,526.28 422.88,526.32 423.44,526.37 424.00,526.43 424.56,526.49 425.11,526.57 425.66,526.65 426.20,526.75 426.74,526.85 427.27,526.96 427.79,527.07 428.30,527.20 428.80,527.33 429.29,527.48 429.76,527.63 430.22,527.78 430.67,527.95 431.10,528.12 431.51,528.29 431.91,528.48 432.28,528.67 432.64,528.86 432.98,529.07 433.30,529.27 433.59,529.48 433.87,529.70 434.12,529.92 434.35,530.14 434.55,530.37 434.73,530.60 434.89,530.83 435.02,531.07 435.13,531.30 435.21,531.54 435.26,531.78 435.29,532.02 435.30,532.26 435.28,532.50 435.23,532.74 435.16,532.98 435.06,533.22 434.94,533.45 434.79,533.69 434.62,533.92 434.43,534.14 434.21,534.37 433.97,534.59 433.70,534.81 433.41,535.02 433.10,535.23 432.77,535.43 432.42,535.63 432.05,535.82 431.66,536.01 431.26,536.19 430.83,536.36 430.39,536.53 429.94,536.69 429.47,536.84 428.99,536.99 428.49,537.12 427.98,537.25 427.47,537.37 426.94,537.49 426.41,537.59 425.87,537.69 425.32,537.77 424.77,537.85 424.21,537.92 423.66,537.98 423.10,538.04 422.54,538.08 421.98,538.12 421.43,538.14 420.88,538.16 420.33,538.17 419.79,538.17 419.25,538.16 418.73,538.14 418.21,538.12 417.70,538.09 417.21,538.05 416.73,538.00 416.26,537.94 415.80,537.88 415.36,537.81 414.94,537.73 414.53,537.65 414.14,537.56 413.77,537.46 413.42,537.36 413.09,537.26 412.78,537.15 412.50,537.03 412.23,536.91 411.99,536.78 411.77,536.66 411.58,536.52 411.40,536.39 411.26,536.25 411.14,536.11 411.04,535.97 410.97,535.83 410.92,535.69 410.90,535.54 410.91,535.40 410.94,535.26 410.99,535.11 411.07,534.97 411.18,534.83 411.31,534.69 411.47,534.56 411.65,534.43 411.86,534.30 412.08,534.17 412.34,534.05 412.61,533.93 412.91,533.81 413.22,533.70 413.56,533.60 413.92,533.50 414.30,533.41 414.69,533.32 415.11,533.24 415.54,533.16 415.98,533.10 416.44,533.04 416.92,532.98 417.41,532.94 417.91,532.90 418.42,532.87 418.94,532.85 419.47,532.84 420.00,532.83 420.55,532.84 421.10,532.85 421.65,532.87 422.20,532.90 422.76,532.94 423.32,532.99 423.88,533.04 424.44,533.11 424.99,533.18 425.54,533.26 426.08,533.35 426.62,533.45 427.15,533.56 427.68,533.68 428.19,533.80 428.69,533.93 429.18,534.07 429.66,534.22 430.12,534.38 430.57,534.54 431.01,534.71 431.42,534.88 431.82,535.07 432.20,535.26 432.57,535.45 432.91,535.65 433.23,535.86 433.53,536.07 433.81,536.28 434.07,536.50 434.30,536.72 434.51,536.95 434.69,537.18 434.86,537.41 434.99,537.64 435.11,537.88 435.19,538.12 435.25,538.36 435.29,538.60 435.30,538.84 435.28,539.08 435.24,539.32 435.18,539.56 435.09,539.79 434.97,540.03 434.83,540.26 434.66,540.50 434.47,540.72 434.26,540.95 434.02,541.17 433.76,541.39 433.48,541.60 433.17,541.81 432.85,542.02 432.50,542.22 432.14,542.41 431.75,542.60 431.35,542.78 430.93,542.95 430.49,543.12 430.04,543.28 429.57,543.44 429.09,543.58 428.60,543.72 428.09,543.85 427.58,543.98 427.06,544.09 426.52,544.20 425.98,544.29 425.44,544.38 424.89,544.47 424.33,544.54 423.78,544.60 423.22,544.66 422.66,544.70 422.10,544.74 421.55,544.77 420.99,544.79 420.45,544.80 419.90,544.80 419.37,544.79 418.84,544.78 418.32,544.76 417.81,544.72 417.32,544.69 416.83,544.64 416.36,544.58 415.90,544.52 415.46,544.45 415.03,544.38 414.62,544.30 414.23,544.21 413.85,544.12 413.50,544.01 413.16,543.91 412.85,543.80 412.56,543.68 412.29,543.56 412.04,543.44 411.82,543.31 411.62,543.18 411.44,543.05 411.29,542.91 411.16,542.77 411.06,542.63 410.98,542.49 410.93,542.35 410.90,542.20 410.90,542.06 410.93,541.92 410.98,541.77 411.05,541.63 411.16,541.49 411.28,541.35 411.43,541.22 411.61,541.08 411.81,540.95 412.03,540.82 412.28,540.70 412.55,540.58 412.84,540.46 413.15,540.35 413.49,540.25 413.84,540.15 414.21,540.05 414.61,539.97 415.02,539.88 415.44,539.81 415.88,539.74 416.34,539.68 416.81,539.62 417.30,539.58 417.80,539.54 418.31,539.51 418.82,539.48 419.35,539.47 419.89,539.46 420.43,539.46 420.98,539.47 421.53,539.49 422.08,539.52 422.64,539.56 423.20,539.60 423.76,539.66 424.32,539.72 424.87,539.79 425.42,539.87 425.97,539.96 426.51,540.06 427.04,540.17 427.56,540.28 428.08,540.40 428.58,540.53 429.08,540.67 429.56,540.82 430.02,540.97 430.48,541.13 430.91,541.30 431.33,541.48 431.74,541.66 432.12,541.84 432.49,542.04 432.84,542.24 433.16,542.44 433.47,542.65 433.75,542.86 434.01,543.08 434.25,543.30 434.47,543.53 434.66,543.76 434.82,543.99 434.97,544.22 435.08,544.46 435.18,544.70 435.24,544.93 435.28,545.17 435.30,545.41 435.29,545.66 435.26,545.89 435.19,546.13 435.11,546.37 435.00,546.61 434.86,546.84 434.70,547.08 434.52,547.30 434.31,547.53 434.07,547.75 433.82,547.97 433.54,548.19 433.24,548.40 432.92,548.60 432.58,548.80 432.22,549.00 431.83,549.19 431.44,549.37 431.02,549.55 430.59,549.72 430.14,549.88 429.67,550.03 429.20,550.18 428.71,550.32 428.20,550.45 427.69,550.58 427.17,550.70 426.64,550.80 426.10,550.90 425.56,550.99 425.01,551.08 424.45,551.15 423.90,551.22 423.34,551.27 422.78,551.32 422.22,551.36 421.67,551.39 421.11,551.41 420.56,551.42 420.02,551.43 419.48,551.42 418.95,551.41 418.43,551.39 417.92,551.36 417.42,551.32 416.93,551.28 416.46,551.23 416.00,551.17 415.55,551.10 415.12,551.03 414.71,550.94 414.31,550.86 413.93,550.76 413.57,550.67 413.23,550.56 412.92,550.45 412.62,550.34 412.34,550.22 412.09,550.10 411.86,549.97 411.66,549.84 411.48,549.71 411.32,549.57 411.19,549.43 411.08,549.29 411.00,549.15 410.94,549.01 410.91,548.86 410.90,548.72 410.92,548.58 410.97,548.43 411.04,548.29 411.13,548.15 411.25,548.01 411.40,547.87 411.57,547.74 411.76,547.61 411.98,547.48 412.22,547.36 412.49,547.23 412.77,547.12 413.08,547.01 413.41,546.90 413.76,546.80 414.13,546.70 414.52,546.61 414.93,546.53 415.35,546.45 415.79,546.38 416.24,546.32 416.71,546.26 417.19,546.21 417.69,546.17 418.20,546.14 418.71,546.12 419.24,546.10 419.77,546.09 420.31,546.09 420.86,546.10 421.41,546.12 421.96,546.14 422.52,546.18 423.08,546.22 423.64,546.27 424.20,546.34 424.75,546.41 425.30,546.48 425.85,546.57 426.39,546.67 426.93,546.77 427.45,546.88 427.97,547.01 428.48,547.13 428.97,547.27 429.45,547.42 429.92,547.57 430.38,547.73 430.82,547.89 431.25,548.07 431.65,548.25 432.04,548.43 432.41,548.62 432.76,548.82 433.09,549.02 433.40,549.23 433.69,549.45 433.96,549.66 434.20,549.88 434.42,550.11 434.62,550.34 434.79,550.57 434.94,550.80 435.06,551.04 435.16,551.27 435.23,551.51 435.28,551.75 435.30,551.99 435.29,552.23 435.26,552.47 435.21,552.71 435.13,552.95 435.02,553.19 434.89,553.42 434.74,553.65 434.56,553.88 434.35,554.11 434.13,554.34 433.88,554.55 433.60,554.77 433.31,554.98 432.99,555.19 432.65,555.39 432.30,555.59 431.92,555.78 431.52,555.96 431.11,556.14 430.68,556.31 430.24,556.47 429.78,556.63 429.30,556.78 428.81,556.92 428.31,557.06 427.80,557.18 427.28,557.30" fill="none" stroke="#2020ff" stroke-width="1.25" stroke-opacity="0.7"/>
<line x1="423.10" y1="521.20" x2="423.10" y2="557.30" stroke="#444444" stroke-width="1.0" />
<polyline points="712.29,520.60 711.80,520.74 711.31,520.88 710.84,521.03 710.38,521.19 709.94,521.35 709.51,521.53 709.10,521.71 708.71,521.89 708.34,522.08 707.98,522.28 707.65,522.48 707.34,522.69 707.05,522.90 706.78,523.12 706.53,523.34 706.31,523.56 706.11,523.79 705.93,524.02 705.78,524.25 705.66,524.49 705.55,524.73 705.48,524.96 705.43,525.20 705.40,525.44 705.40,525.68 705.43,525.92 705.48,526.16 705.56,526.40 705.66,526.64 705.79,526.87 705.94,527.11 706.12,527.34 706.32,527.56 706.54,527.79 706.79,528.01 707.06,528.23 707.35,528.44 707.67,528.64 708.00,528.85 708.35,529.04 708.73,529.23 709.12,529.42 709.53,529.60 709.96,529.77 710.40,529.93 710.86,530.09 711.33,530.24 711.82,530.39 712.32,530.52 712.83,530.65 713.34,530.77 713.87,530.88 714.41,530.98 714.95,531.08 715.50,531.16 716.05,531.24 716.61,531.31 717.16,531.37 717.72,531.42 718.28,531.46 718.84,531.49 719.39,531.52 719.94,531.53 720.49,531.54 721.03,531.54 721.56,531.53 722.08,531.51 722.60,531.48 723.10,531.45 723.60,531.41 724.08,531.36 724.54,531.30 724.99,531.24 725.43,531.17 725.85,531.09 726.25,531.00 726.64,530.91 727.00,530.81 727.35,530.71 727.67,530.60 727.98,530.49 728.26,530.37 728.52,530.25 728.76,530.13 728.97,530.00 729.16,529.87 729.33,529.73 729.47,529.59 729.59,529.45 729.68,529.31 729.74,529.17 729.78,529.03 729.80,528.88 729.79,528.74 729.75,528.60 729.69,528.45 729.60,528.31 729.49,528.17 729.36,528.04 729.19,527.90 729.01,527.77 728.80,527.64 728.56,527.51 728.31,527.39 728.03,527.27 727.73,527.16 727.41,527.05 727.06,526.95 726.70,526.85 726.32,526.76 725.92,526.67 725.50,526.59 725.07,526.52 724.62,526.45 724.16,526.40 723.68,526.34 723.19,526.30 722.68,526.26 722.17,526.24 721.65,526.22 721.12,526.21 720.58,526.20 720.04,526.21 719.49,526.22 718.93,526.25 718.38,526.28 717.82,526.32 717.26,526.37 716.70,526.43 716.14,526.49 715.59,526.57 715.04,526.65 714.50,526.75 713.96,526.85 713.43,526.96 712.91,527.07 712.40,527.20 711.90,527.33 711.41,527.48 710.94,527.63 710.48,527.78 710.03,527.95 709.60,528.12 709.19,528.29 708.79,528.48 708.42,528.67 708.06,528.86 707.72,529.07 707.40,529.27 707.11,529.48 706.83,529.70 706.58,529.92 706.35,530.14 706.15,530.37 705.97,530.60 705.81,530.83 705.68,531.07 705.57,531.30 705.49,531.54 705.44,531.78 705.41,532.02 705.40,532.26 705.42,532.50 705.47,532.74 705.54,532.98 705.64,533.22 705.76,533.45 705.91,533.69 706.08,533.92 706.27,534.14 706.49,534.37 706.73,534.59 707.00,534.81 707.29,535.02 707.60,535.23 707.93,535.43 708.28,535.63 708.65,535.82 709.04,536.01 709.44,536.19 709.87,536.36 710.31,536.53 710.76,536.69 711.23,536.84 711.71,536.99 712.21,537.12 712.72,537.25 713.23,537.37 713.76,537.49 714.29,537.59 714.83,537.69 715.38,537.77 715.93,537.85 716.49,537.92 717.04,537.98 717.60,538.04 718.16,538.08 718.72,538.12 719.27,538.14 719.82,538.16 720.37,538.17 720.91,538.17 721.45,538.16 721.97,538.14 722.49,538.12 723.00,538.09 723.49,538.05 723.97,538.00 724.44,537.94 724.90,537.88 725.34,537.81 725.76,537.73 726.17,537.65 726.56,537.56 726.93,537.46 727.28,537.36 727.61,537.26 727.92,537.15 728.20,537.03 728.47,536.91 728.71,536.78 728.93,536.66 729.12,536.52 729.30,536.39 729.44,536.25 729.56,536.11 729.66,535.97 729.73,535.83 729.78,535.69 729.80,535.54 729.79,535.40 729.76,535.26 729.71,535.11 729.63,534.97 729.52,534.83 729.39,534.69 729.23,534.56 729.05,534.43 728.84,534.30 728.62,534.17 728.36,534.05 728.09,533.93 727.79,533.81 727.48,533.70 727.14,533.60 726.78,533.50 726.40,533.41 726.01,533.32 725.59,533.24 725.16,533.16 724.72,533.10 724.26,533.04 723.78,532.98 723.29,532.94 722.79,532.90 722.28,532.87 721.76,532.85 721.23,532.84 720.70,532.83 720.15,532.84 719.60,532.85 719.05,532.87 718.50,532.90 717.94,532.94 717.38,532.99 716.82,533.04 716.26,533.11 715.71,533.18 715.16,533.26 714.62,533.35 714.08,533.45 713.55,533.56 713.02,533.68 712.51,533.80 712.01,533.93 711.52,534.07 711.04,534.22 710.58,534.38 710.13,534.54 709.69,534.71 709.28,534.88 708.88,535.07 708.50,535.26 708.13,535.45 707.79,535.65 707.47,535.86 707.17,536.07 706.89,536.28 706.63,536.50 706.40,536.72 706.19,536.95 706.01,537.18 705.84,537.41 705.71,537.64 705.59,537.88 705.51,538.12 705.45,538.36 705.41,538.60 705.40,538.84 705.42,539.08 705.46,539.32 705.52,539.56 705.61,539.79 705.73,540.03 705.87,540.26 706.04,540.50 706.23,540.72 706.44,540.95 706.68,541.17 706.94,541.39 707.22,541.60 707.53,541.81 707.85,542.02 708.20,542.22 708.56,542.41 708.95,542.60 709.35,542.78 709.77,542.95 710.21,543.12 710.66,543.28 711.13,543.44 711.61,543.58 712.10,543.72 712.61,543.85 713.12,543.98 713.64,544.09 714.18,544.20 714.72,544.29 715.26,544.38 715.81,544.47 716.37,544.54 716.92,544.60 717.48,544.66 718.04,544.70 718.60,544.74 719.15,544.77 719.71,544.79 720.25,544.80 720.80,544.80 721.33,544.79 721.86,544.78 722.38,544.76 722.89,544.72 723.38,544.69 723.87,544.64 724.34,544.58 724.80,544.52 725.24,544.45 725.67,544.38 726.08,544.30 726.47,544.21 726.85,544.12 727.20,544.01 727.54,543.91 727.85,543.80 728.14,543.68 728.41,543.56 728.66,543.44 728.88,543.31 729.08,543.18 729.26,543.05 729.41,542.91 729.54,542.77 729.64,542.63 729.72,542.49 729.77,542.35 729.80,542.20 729.80,542.06 729.77,541.92 729.72,541.77 729.65,541.63 729.54,541.49 729.42,541.35 729.27,541.22 729.09,541.08 728.89,540.95 728.67,540.82 728.42,540.70 728.15,540.58 727.86,540.46 727.55,540.35 727.21,540.25 726.86,540.15 726.49,540.05 726.09,539.97 725.68,539.88 725.26,539.81 724.82,539.74 724.36,539.68 723.89,539.62 723.40,539.58 722.90,539.54 722.39,539.51 721.88,539.48 721.35,539.47 720.81,539.46 720.27,539.46 719.72,539.47 719.17,539.49 718.62,539.52 718.06,539.56 717.50,539.60 716.94,539.66 716.38,539.72 715.83,539.79 715.28,539.87 714.73,539.96 714.19,540.06 713.66,540.17 713.14,540.28 712.62,540.40 712.12,540.53 711.62,540.67 711.14,540.82 710.68,540.97 710.22,541.13 709.79,541.30 709.37,541.48 708.96,541.66 708.58,541.84 708.21,542.04 707.86,542.24 707.54,542.44 707.23,542.65 706.95,542.86 706.69,543.08 706.45,543.30 706.23,543.53 706.04,543.76 705.88,543.99 705.73,544.22 705.62,544.46 705.52,544.70 705.46,544.93 705.42,545.17 705.40,545.41 705.41,545.66 705.44,545.89 705.51,546.13 705.59,546.37 705.70,546.61 705.84,546.84 706.00,547.08 706.18,547.30 706.39,547.53 706.63,547.75 706.88,547.97 707.16,548.19 707.46,548.40 707.78,548.60 708.12,548.80 708.48,549.00 708.87,549.19 709.26,549.37 709.68,549.55 710.11,549.72 710.56,549.88 711.03,550.03 711.50,550.18 711.99,550.32 712.50,550.45 713.01,550.58 713.53,550.70 714.06,550.80 714.60,550.90 715.14,550.99 715.69,551.08 716.25,551.15 716.80,551.22 717.36,551.27 717.92,551.32 718.48,551.36 719.03,551.39 719.59,551.41 720.14,551.42 720.68,551.43 721.22,551.42 721.75,551.41 722.27,551.39 722.78,551.36 723.28,551.32 723.77,551.28 724.24,551.23 724.70,551.17 725.15,551.10 725.58,551.03 725.99,550.94 726.39,550.86 726.77,550.76 727.13,550.67 727.47,550.56 727.78,550.45 728.08,550.34 728.36,550.22 728.61,550.10 728.84,549.97 729.04,549.84 729.22,549.71 729.38,549.57 729.51,549.43 729.62,549.29 729.70,549.15 729.76,549.01 729.79,548.86 729.80,548.72 729.78,548.58 729.73,548.43 729.66,548.29 729.57,548.15 729.45,548.01 729.30,547.87 729.13,547.74 728.94,547.61 728.72,547.48 728.48,547.36 728.21,547.23 727.93,547.12 727.62,547.01 727.29,546.90 726.94,546.80 726.57,546.70 726.18,546.61 725.77,546.53 725.35,546.45 724.91,546.38 724.46,546.32 723.99,546.26 723.51,546.21 723.01,546.17 722.50,546.14 721.99,546.12 721.46,546.10 720.93,546.09 720.39,546.09 719.84,546.10 719.29,546.12 718.74,546.14 718.18,546.18 717.62,546.22 717.06,546.27 716.50,546.34 715.95,546.41 715.40,546.48 714.85,546.57 714.31,546.67 713.77,546.77 713.25,546.88 712.73,547.01 712.22,547.13 711.73,547.27 711.25,547.42 710.78,547.57 710.32,547.73 709.88,547.89 709.45,548.07 709.05,548.25 708.66,548.43 708.29,548.62 707.94,548.82 707.61,549.02 707.30,549.23 707.01,549.45 706.74,549.66 706.50,549.88 706.28,550.11 706.08,550.34 705.91,550.57 705.76,550.80 705.64,551.04 705.54,551.27 705.47,551.51 705.42,551.75 705.40,551.99 705.41,552.23 705.44,552.47 705.49,552.71 705.57,552.95 705.68,553.19 705.81,553.42 705.96,553.65 706.14,553.88 706.35,554.11 706.57,554.34 706.82,554.55 707.10,554.77 707.39,554.98 707.71,555.19 708.05,555.39 708.40,555.59 708.78,555.78 709.18,555.96 709.59,556.14 710.02,556.31 710.46,556.47 710.92,556.63 711.40,556.78 711.89,556.92 712.39,557.06 712.90,557.18 713.42,557.30" fill="none" stroke="#ff2020" stroke-width="1.25" stroke-opacity="0.7"/>
<line x1="717.60" y1="521.20" x2="717.60" y2="557.30" stroke="#444444" stroke-width="1.0" />
<text x="138.65" y="66.82" font-size="18.05" textLength="27.35" lengthAdjust="spacingAndGlyphs" stroke="#000" stroke-width="0.18" xml:space="preserve">σ =</text>
<text x="185.70" y="66.78" font-size="18.39" font-family="'Liberation Serif',serif" textLength="79.52" lengthAdjust="spacingAndGlyphs" xml:space="preserve"><tspan font-style="italic">Np</tspan>(1 − <tspan font-style="italic">p</tspan>)</text>
<text x="154.35" y="90.25" font-size="17.50" textLength="49.97" lengthAdjust="spacingAndGlyphs" stroke="#000" stroke-width="0.18" xml:space="preserve">= 3.54</text>
<text x="103.50" y="109.30" font-size="17.64" textLength="101.97" lengthAdjust="spacingAndGlyphs" stroke="#000" stroke-width="0.18" xml:space="preserve">1.96σ = 6.93</text>
<text x="102.80" y="125.85" font-size="16.80" textLength="102.38" lengthAdjust="spacingAndGlyphs" stroke="#000" stroke-width="0.18" xml:space="preserve">2.58σ = 9.12</text>
<polyline points="171.50,65.00 173.10,63.80 177.50,71.90" fill="none" stroke="#111" stroke-width="1.7" stroke-linejoin="round"/>
<polyline points="177.50,71.90 183.20,50.70 265.50,50.70" fill="none" stroke="#222" stroke-width="1.3" stroke-linejoin="miter"/>
<text x="734.85" y="70.68" font-size="17.87" textLength="27.34" lengthAdjust="spacingAndGlyphs" stroke="#000" stroke-width="0.18" xml:space="preserve">σ =</text>
<text x="781.70" y="70.78" font-size="18.17" font-family="'Liberation Serif',serif" textLength="78.82" lengthAdjust="spacingAndGlyphs" xml:space="preserve"><tspan font-style="italic">Np</tspan>(1 − <tspan font-style="italic">p</tspan>)</text>
<text x="750.55" y="93.80" font-size="16.94" textLength="49.17" lengthAdjust="spacingAndGlyphs" stroke="#000" stroke-width="0.18" xml:space="preserve">= 7.07</text>
<text x="698.30" y="113.10" font-size="16.94" textLength="112.31" lengthAdjust="spacingAndGlyphs" stroke="#000" stroke-width="0.18" xml:space="preserve">1.96σ = 13.86</text>
<text x="698.20" y="129.72" font-size="17.92" textLength="112.24" lengthAdjust="spacingAndGlyphs" stroke="#000" stroke-width="0.18" xml:space="preserve">2.58σ = 18.24</text>
<polyline points="766.80,68.90 768.40,67.70 773.20,75.70" fill="none" stroke="#111" stroke-width="1.7" stroke-linejoin="round"/>
<polyline points="773.20,75.70 779.10,54.50 860.50,54.50" fill="none" stroke="#222" stroke-width="1.3" stroke-linejoin="miter"/>
<text x="425.65" y="419.15" font-size="18.42" textLength="27.29" lengthAdjust="spacingAndGlyphs" stroke="#000" stroke-width="0.18" xml:space="preserve">σ =</text>
<text x="472.30" y="419.07" font-size="18.17" font-family="'Liberation Serif',serif" textLength="79.73" lengthAdjust="spacingAndGlyphs" xml:space="preserve"><tspan font-style="italic">Np</tspan>(1 − <tspan font-style="italic">p</tspan>)</text>
<text x="440.60" y="441.35" font-size="17.14" textLength="26.59" lengthAdjust="spacingAndGlyphs" stroke="#000" stroke-width="0.18" xml:space="preserve">= 5</text>
<text x="389.00" y="460.83" font-size="15.82" textLength="93.99" lengthAdjust="spacingAndGlyphs" stroke="#000" stroke-width="0.18" xml:space="preserve">1.96σ = 9.8</text>
<text x="389.50" y="477.50" font-size="15.68" textLength="103.25" lengthAdjust="spacingAndGlyphs" stroke="#000" stroke-width="0.18" xml:space="preserve">2.58σ = 12.9</text>
<polyline points="458.00,416.90 459.60,415.70 464.10,423.70" fill="none" stroke="#111" stroke-width="1.7" stroke-linejoin="round"/>
<polyline points="464.10,423.70 470.00,402.50 552.20,402.50" fill="none" stroke="#222" stroke-width="1.3" stroke-linejoin="miter"/>
<text x="90.00" y="39.12" font-size="23.54" font-weight="bold" textLength="98.91" lengthAdjust="spacingAndGlyphs" xml:space="preserve">B(50,0.5)</text>
<text x="685.30" y="39.88" font-size="24.61" font-weight="bold" textLength="112.05" lengthAdjust="spacingAndGlyphs" xml:space="preserve">B(200,0.5)</text>
<text x="376.50" y="390.12" font-size="23.54" font-weight="bold" textLength="111.46" lengthAdjust="spacingAndGlyphs" xml:space="preserve">B(100,0.5)</text>
<text x="4.55" y="33.28" font-size="32.97" font-weight="bold" textLength="23.80" lengthAdjust="spacingAndGlyphs" xml:space="preserve">A</text>
<text x="599.65" y="31.97" font-size="32.24" font-weight="bold" textLength="23.21" lengthAdjust="spacingAndGlyphs" xml:space="preserve">B</text>
<text x="290.25" y="385.52" font-size="33.64" font-weight="bold" textLength="21.81" lengthAdjust="spacingAndGlyphs" xml:space="preserve">C</text>
<text x="180.80" y="328.45" font-size="20.77" font-weight="bold" textLength="289.83" lengthAdjust="spacingAndGlyphs" xml:space="preserve">“優勢結晶鏡像異性体”の晶出回数</text>
<text x="775.80" y="328.65" font-size="20.34" font-weight="bold" textLength="290.08" lengthAdjust="spacingAndGlyphs" xml:space="preserve">“優勢結晶鏡像異性体”の晶出回数</text>
<text x="509.20" y="676.00" font-size="18.62" font-weight="bold" textLength="210.50" lengthAdjust="spacingAndGlyphs" xml:space="preserve">“右利き結晶”の晶出回数</text>
<text x="0" y="0" font-size="20.84" font-weight="bold" textLength="40.47" lengthAdjust="spacingAndGlyphs" transform="translate(30.35 169.95) rotate(-90)">確率</text>
<text x="0" y="0" font-size="20.52" font-weight="bold" textLength="40.39" lengthAdjust="spacingAndGlyphs" transform="translate(625.38 170.75) rotate(-90)">確率</text>
<text x="0" y="0" font-size="20.41" font-weight="bold" textLength="40.37" lengthAdjust="spacingAndGlyphs" transform="translate(316.20 522.95) rotate(-90)">確率</text>
</g>
</svg>
</body></html>
